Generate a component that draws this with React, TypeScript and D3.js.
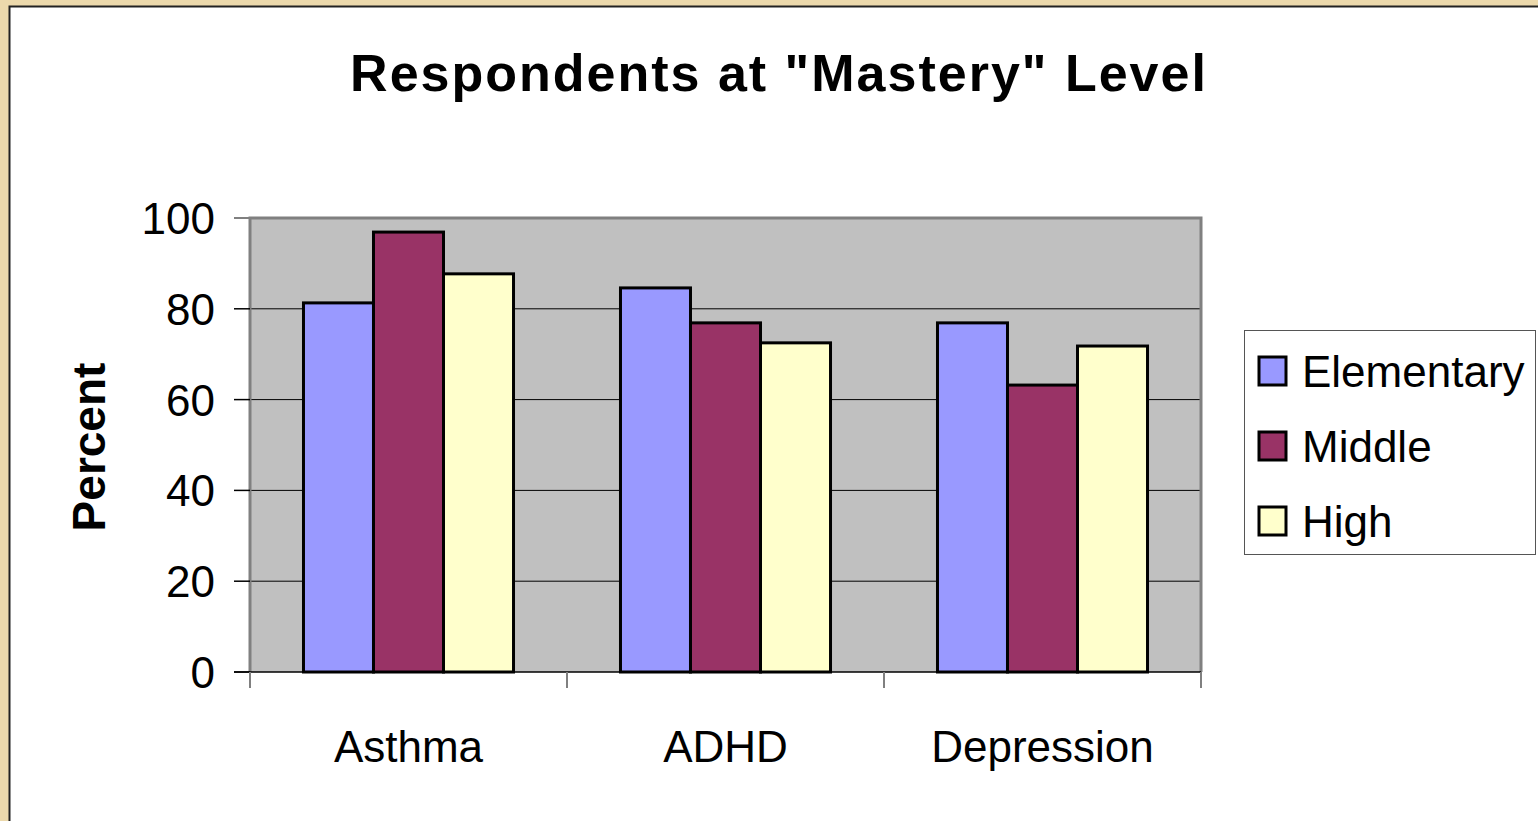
import React from "react";
import * as d3 from "d3";

const categories = ["Asthma", "ADHD", "Depression"];
const seriesNames = ["Elementary", "Middle", "High"];
const elementary = [81.3, 84.6, 76.9];
const middle = [96.9, 76.9, 63.2];
const high = [87.7, 72.5, 71.8];
const yTicks = [0, 20, 40, 60, 80, 100];
const colors = ["#9999ff", "#993366", "#ffffcc"];

const W = 1538;
const H = 821;
const plot = { x0: 250, x1: 1201, y0: 218, y1: 672 };

export default function App() {
  const seriesValues = [elementary, middle, high];
  const x = d3.scaleBand<string>().domain(categories).range([plot.x0, plot.x1]).paddingInner(0).paddingOuter(0);
  const inner = d3.scaleBand<string>().domain(seriesNames).range([0, x.bandwidth()]).paddingInner(0).paddingOuter(0.764);
  const y = d3.scaleLinear().domain([0, 100]).range([plot.y1, plot.y0]);
  const font = "'Liberation Sans', Arial, sans-serif";
  const boundaries = d3.range(categories.length + 1).map((i) => plot.x0 + i * x.bandwidth());

  return (
    <svg width={W} height={H} style={{ position: "absolute", left: 0, top: 0 }} fontFamily={font}>
      <rect x={0} y={0} width={W} height={H} fill="#ecd9ac" />
      <rect x={9.5} y={6.5} width={W} height={H} fill="#ffffff" stroke="#222" strokeWidth={2} />
      <text x={779} y={91} textAnchor="middle" fontSize={52} fontWeight="bold" letterSpacing={2} fill="#000">
        Respondents at "Mastery" Level
      </text>
      <rect x={plot.x0} y={plot.y0} width={plot.x1 - plot.x0} height={plot.y1 - plot.y0} fill="#c0c0c0" />
      {yTicks.filter((t) => t > 0 && t < 100).map((t) => (
        <line key={t} x1={plot.x0} x2={plot.x1} y1={y(t)} y2={y(t)} stroke="#000" strokeWidth={1} />
      ))}
      <path
        d={`M${plot.x0},${plot.y1} L${plot.x0},${plot.y0} L${plot.x1},${plot.y0} L${plot.x1},${plot.y1}`}
        fill="none"
        stroke="#808080"
        strokeWidth={3}
      />
      {categories.map((c, ci) =>
        seriesNames.map((s, si) => {
          const v = seriesValues[si][ci];
          return (
            <rect
              key={c + s}
              x={(x(c) ?? 0) + (inner(s) ?? 0)}
              y={y(v)}
              width={inner.bandwidth()}
              height={y(0) - y(v)}
              fill={colors[si]}
              stroke="#000"
              strokeWidth={3}
            />
          );
        })
      )}
      <line x1={plot.x0} x2={plot.x0} y1={plot.y0} y2={plot.y1} stroke="#808080" strokeWidth={2} />
      <line x1={234} x2={plot.x1} y1={plot.y1} y2={plot.y1} stroke="#000" strokeWidth={1.5} />
      {yTicks.map((t) => (
        <g key={t}>
          <line x1={234} x2={plot.x0} y1={y(t)} y2={y(t)} stroke={t === 100 ? "#808080" : "#000"} strokeWidth={t === 100 ? 2 : 1.5} />
          <text x={215} y={y(t) + 16} textAnchor="end" fontSize={44} fill="#000">
            {t}
          </text>
        </g>
      ))}
      {boundaries.map((b, i) => (
        <line key={i} x1={b} x2={b} y1={plot.y1} y2={688} stroke="#808080" strokeWidth={2} />
      ))}
      {categories.map((c) => (
        <text key={c} x={(x(c) ?? 0) + x.bandwidth() / 2} y={762} textAnchor="middle" fontSize={44} fill="#000">
          {c}
        </text>
      ))}
      <text transform="translate(105,447) rotate(-90)" textAnchor="middle" fontSize={46} fontWeight="bold" fill="#000">
        Percent
      </text>
      <rect x={1244.5} y={330.5} width={291} height={224} fill="#fff" stroke="#555" strokeWidth={1} />
      {seriesNames.map((s, i) => (
        <g key={s}>
          <rect x={1259} y={357 + i * 75} width={27} height={28} fill={colors[i]} stroke="#000" strokeWidth={3} />
          <text x={1302} y={387 + i * 75} fontSize={44} fill="#000">
            {s}
          </text>
        </g>
      ))}
    </svg>
  );
}
